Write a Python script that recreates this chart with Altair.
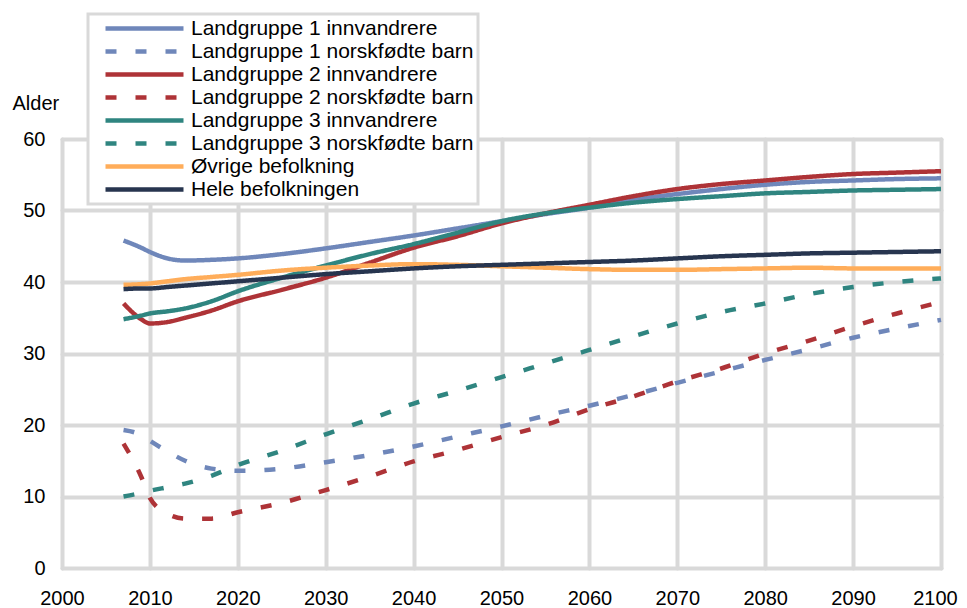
import altair as alt
import pandas as pd

years = [2007, 2009, 2010, 2012, 2014, 2017, 2020, 2025, 2030, 2035, 2040, 2045,
         2050, 2055, 2060, 2065, 2070, 2075, 2080, 2085, 2090, 2095, 2100]

series_names = [
    "Landgruppe 1 innvandrere",
    "Landgruppe 1 norskfødte barn",
    "Landgruppe 2 innvandrere",
    "Landgruppe 2 norskfødte barn",
    "Landgruppe 3 innvandrere",
    "Landgruppe 3 norskfødte barn",
    "Øvrige befolkning",
    "Hele befolkningen",
]

lg1_innv = [45.8, 44.8, 44.2, 43.3, 43.0, 43.1, 43.3, 43.9, 44.7, 45.6, 46.5, 47.5,
            48.5, 49.5, 50.4, 51.5, 52.3, 53.0, 53.6, 54.0, 54.2, 54.4, 54.5]
lg1_nf = [19.3, 18.6, 17.8, 16.3, 15.0, 13.9, 13.6, 13.9, 14.8, 15.8, 17.0, 18.4,
          19.8, 21.3, 22.7, 24.2, 25.9, 27.5, 29.1, 30.6, 32.2, 33.5, 34.7]
lg2_innv = [37.0, 34.8, 34.2, 34.4, 35.0, 36.0, 37.3, 38.9, 40.6, 42.7, 44.8, 46.4,
            48.2, 49.6, 50.8, 52.0, 53.0, 53.7, 54.2, 54.7, 55.1, 55.3, 55.5]
lg2_nf = [17.4, 12.8, 9.8, 7.6, 6.9, 6.9, 7.8, 9.1, 10.9, 12.8, 14.9, 16.5,
          18.3, 20.0, 22.2, 24.0, 26.1, 27.9, 30.0, 31.8, 33.8, 35.6, 37.2]
lg3_innv = [34.8, 35.3, 35.6, 35.9, 36.3, 37.3, 38.7, 40.6, 42.3, 43.9, 45.3, 46.9,
            48.5, 49.6, 50.4, 51.1, 51.6, 52.0, 52.4, 52.6, 52.8, 52.9, 53.0]
lg3_nf = [10.0, 10.5, 10.8, 11.3, 11.8, 12.9, 14.4, 16.4, 18.7, 20.8, 23.0, 24.8,
          26.7, 28.6, 30.5, 32.4, 34.2, 35.8, 37.0, 38.3, 39.3, 40.0, 40.5]
ovrige = [39.6, 39.7, 39.8, 40.1, 40.4, 40.7, 41.0, 41.6, 42.0, 42.3, 42.5, 42.4,
          42.2, 42.0, 41.8, 41.7, 41.7, 41.8, 41.9, 42.0, 41.9, 41.9, 41.9]
hele = [39.0, 39.1, 39.1, 39.3, 39.5, 39.8, 40.1, 40.6, 41.1, 41.5, 41.9, 42.2,
        42.4, 42.6, 42.8, 43.0, 43.3, 43.6, 43.8, 44.0, 44.1, 44.2, 44.3]

colors = ["#6F87BA", "#6F87BA", "#AE3337", "#AE3337", "#2F8580", "#2F8580",
          "#FFAD5A", "#27354F"]
dashes = [[1, 0], [11, 19], [1, 0], [11, 19], [1, 0], [11, 19], [1, 0], [1, 0]]

all_values = [lg1_innv, lg1_nf, lg2_innv, lg2_nf, lg3_innv, lg3_nf, ovrige, hele]
rows = []
for i, (name, vals) in enumerate(zip(series_names, all_values)):
    for y, v in zip(years, vals):
        rows.append({"series": name, "year": y, "value": v, "idx": i})
df = pd.DataFrame(rows)

FONT = "Liberation Sans"
PAD = "\u2007" * 2

legend = alt.Legend(title=None, orient="none", legendX=26, legendY=-125,
                    symbolType="M-6,0H6", symbolSize=169,
                    symbolStrokeWidth=4.5, symbolOffset=42,
                    labelOffset=36, padding=4, rowPadding=1,
                    labelFont=FONT, labelFontSize=21, labelColor="black",
                    labelLimit=400, labelExpr="datum.label + '" + PAD + "'",
                    strokeColor="#d9d9d9", fillColor="white")

chart = alt.Chart(df).mark_line(strokeWidth=4.5, interpolate="monotone", strokeCap="butt").encode(
    x=alt.X("year:Q",
            scale=alt.Scale(domain=[2000, 2100], nice=False, zero=False),
            axis=alt.Axis(values=list(range(2000, 2101, 10)), format="d", title=None,
                          labelPadding=20, ticks=False, domain=False, labelFlush=False,
                          labelOverlap=False,
                          labelOffset={"condition": {"test": "datum.value == 2100", "value": -6},
                                       "value": 0},
                          gridColor="#d9d9d9", gridWidth=4, gridCap="round",
                          labelFontSize=20, labelFont=FONT, labelColor="black")),
    y=alt.Y("value:Q",
            scale=alt.Scale(domain=[0, 60], nice=False),
            axis=alt.Axis(values=list(range(0, 61, 10)), title="Alder", titleAngle=0,
                          titleX=-50, titleY=-36, titleAlign="left", titleBaseline="middle",
                          titleFont=FONT, titleFontSize=20, titleFontWeight="normal",
                          titleColor="black", labelFlush=False,
                          labelPadding=17, ticks=False, domain=False,
                          gridColor="#d9d9d9", gridWidth=4, gridCap="round",
                          labelFontSize=20, labelFont=FONT, labelColor="black")),
    color=alt.Color("series:N",
                    scale=alt.Scale(domain=series_names, range=colors),
                    legend=legend),
    strokeDash=alt.StrokeDash("series:N",
                              scale=alt.Scale(domain=series_names, range=dashes),
                              legend=legend),
    order=alt.Order("idx:Q"),
).properties(
    width=879, height=429,
    autosize=alt.AutoSizeParams(type="none"),
    padding={"left": 54, "top": 131, "right": 18, "bottom": 41},
).configure_view(stroke=None).configure_legend(strokeWidth=3)

chart.save("out.html", embed_options={"renderer": "svg", "actions": False})
